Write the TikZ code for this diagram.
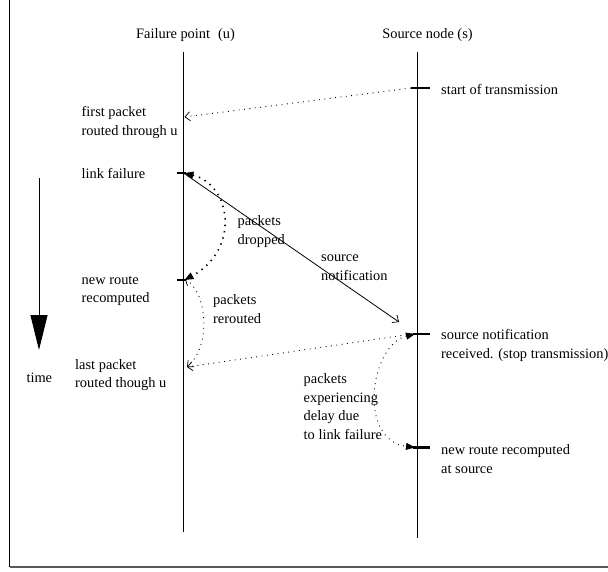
\documentclass[tikz,border=0pt]{standalone}
\usepackage{fontspec}
\setmainfont{Liberation Serif}
\usetikzlibrary{arrows.meta}
\begin{document}
\begin{tikzpicture}[x=1pt,y=-1pt,
  lbl/.style={anchor=west,inner sep=0pt,align=left,font=\fontsize{14.4}{18.7}\selectfont},
  hdr/.style={inner sep=0pt,font=\fontsize{14.4}{18.7}\selectfont},
  life/.style={line width=1pt},
  tickmark/.style={line width=2.6pt},
  dotline/.style={line width=0.9pt,dash pattern=on 0.9pt off 4.5pt},
  thickdots/.style={line width=1.6pt,dash pattern=on 1.4pt off 5pt},
  openhead/.style={-{Straight Barb[length=5pt,width=9pt,line width=0.7pt]}},
  fillheads/.style={{Triangle[length=9pt,width=7pt]}-{Triangle[length=9pt,width=7pt]}},
  openheads/.style={{Straight Barb[length=5pt,width=9pt,line width=0.7pt]}-{Straight Barb[length=5pt,width=9pt,line width=0.7pt]}}]
\useasboundingbox (0,0) rectangle (608,571);
% frame (only left and bottom edges visible)
\draw[line width=1pt] (9.5,0) -- (9.5,567);
\draw[line width=1.3pt,black!65] (9.5,567) -- (608,567);

% headers
\node[hdr] (hu) at (185.5,35) {Failure point\hspace{0.55em}(u)};
\node[hdr] (hs) at (427.5,35) {Source node\hspace{0.25em}(s)};

% lifelines
\coordinate (uTop) at (183.5,52);
\coordinate (uBot) at (183.5,532);
\coordinate (sTop) at (417,52);
\coordinate (sBot) at (417,538);
\draw[life] (uTop) -- (uBot);
\draw[life] (sTop) -- (sBot);

% event points
\coordinate (sT1) at (417,88);
\coordinate (sT2) at (417,334);
\coordinate (sT3) at (417,447.5);
\coordinate (uT1) at (183.5,173);
\coordinate (uT2) at (183.5,280);
\coordinate (uFirst) at (184.5,117);
\coordinate (uLast) at (187,367);
\coordinate (notifEnd) at (399,322);

% ticks
\draw[tickmark] ([xshift=-6pt]sT1) -- ([xshift=13pt]sT1);
\draw[tickmark] ([xshift=-4pt]sT2) -- ([xshift=13pt]sT2);
\draw[tickmark] ([xshift=-4pt]sT3) -- ([xshift=13pt]sT3);
\draw[tickmark] ([xshift=-7pt]uT1) -- ([xshift=2pt]uT1);
\draw[tickmark] ([xshift=-7pt]uT2) -- ([xshift=2pt]uT2);

% connectors
\draw[dotline,openhead] ([xshift=-6pt]sT1) -- (uFirst);
\draw[line width=0.8pt,openhead] (uT1) -- (notifEnd);
\draw[thickdots,fillheads] ([xshift=1pt]uT1) .. controls (232,185) and (240,250) .. ([xshift=1pt]uT2);
\draw[dotline,openheads] ([xshift=1.5pt,yshift=1pt]uT2) .. controls (207,292) and (212,345) .. (uLast);
\draw[dotline,openhead] ([xshift=-5pt]sT2) -- (uLast);
\draw[dotline,fillheads] ([xshift=-2pt]sT2) .. controls (370,345) and (357,440) .. ([xshift=-2pt]sT3);

% time arrow
\coordinate (tTop) at (39,178);
\coordinate (tTip) at (39,350);
\draw[line width=1pt,-{Triangle[length=35pt,width=17pt]}] (tTop) -- (tTip);
\node[hdr] (time) at (39.3,378) {time};

% labels
\node[lbl] (l1) at (441,89) {start of transmission};
\node[lbl] (l2) at (81.5,122.5) {first packet\\routed through u};
\node[lbl] (l3) at (81.5,173) {link failure};
\node[lbl] (l4) at (237.5,231.5) {packets\\dropped};
\node[lbl] (l5) at (321,267.5) {source\\notification};
\node[lbl] (l6) at (81.5,291) {new route\\recomputed};
\node[lbl] (l7) at (213,309) {packets\\rerouted};
\node[lbl] (l8) at (75,375) {last packet\\routed though u};
\node[lbl] (l9) at (441,345.5) {source notification\\received. (stop transmission)};
\node[lbl] (l10) at (303.5,406.5) {packets\\experiencing\\delay due\\to link failure};
\node[lbl] (l11) at (441,459) {new route recomputed\\at source};
\end{tikzpicture}
\end{document}
